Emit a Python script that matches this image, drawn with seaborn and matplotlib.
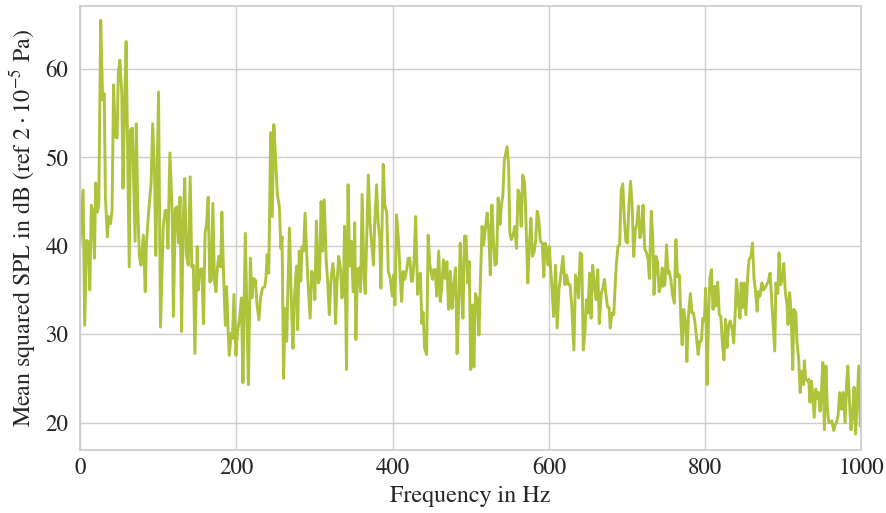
import matplotlib
matplotlib.use("Agg")
import matplotlib.pyplot as plt
import seaborn as sns
import pandas as pd

# Frequencies (Hz) and mean squared SPL (dB)
freq = [0, 4, 6, 8.5, 11, 12.5, 14.5, 16.5, 18.5, 20, 22, 24, 26.5, 29, 31, 32.5, 35, 36.5, 39, 41,
        43, 45, 47.5, 49, 51, 53.5, 55, 57, 59, 61, 63, 64.5, 67, 70.5, 72, 74, 76, 78, 81, 83.5,
        85, 88, 91, 93, 95.5, 97, 100.5, 103, 106.5, 109, 111, 112.5, 115, 118, 119.5, 122, 124, 126, 128, 130,
        132, 134, 136, 138.5, 141, 143, 145, 147, 150, 151.5, 153, 156, 158, 160, 162, 164, 166, 168, 170, 172,
        174, 175.5, 177.5, 180, 181.5, 184, 186, 187.5, 189.5, 191, 193.5, 195, 197, 199.5, 201.5, 204, 206.5, 208.5, 211.5, 213.5,
        215.5, 218, 220, 222, 224.5, 226.5, 229, 231, 233.5, 236.5, 238, 239.5, 241.5, 244, 246, 248, 249.5, 252.5, 255, 257,
        258.5, 260.5, 262.5, 264.5, 266, 268, 270.5, 272.5, 274.5, 277, 278.5, 280.5, 282.5, 284, 286, 288, 290, 292, 294.5, 296.5,
        299, 300.5, 302.5, 305, 306.5, 308.5, 310.5, 312.5, 315, 317, 319, 321, 323.5, 325.5, 327, 329, 331, 333.5, 335, 337,
        338.5, 341, 343, 345, 347, 349.5, 351.5, 353, 355, 357, 359, 361, 363.5, 365, 367, 369, 371, 373.5, 375.5, 377,
        379.5, 381.5, 383.5, 385, 388, 390, 392.5, 394.5, 397, 399.5, 401.5, 403, 405, 407.5, 409.5, 411.5, 413.5, 415.5, 418, 420,
        422, 424, 425.5, 427.5, 429.5, 432, 433.5, 435.5, 437.5, 439, 441, 443.5, 445.5, 447.5, 449, 451, 452.5, 454.5, 456.5, 459,
        461, 463, 465, 467.5, 469.5, 471.5, 474, 476, 478, 480.5, 482.5, 484.5, 486.5, 488.5, 490, 492, 494, 496, 498, 500,
        502, 504, 506, 508.5, 510.5, 512.5, 514.5, 516.5, 519, 521, 523, 525, 527, 529, 531, 533, 535, 537.5, 539, 541,
        543, 546.5, 548.5, 550, 552, 554, 556.5, 558.5, 560.5, 562.5, 564.5, 566.5, 569, 571, 573, 575, 577, 579, 581, 583,
        585, 587, 589, 591.5, 593.5, 595, 597, 599, 600.5, 602, 604, 606, 608.5, 610.5, 613, 615, 618, 620.5, 622.5, 625,
        627, 629, 632, 634, 636, 638, 640, 642, 644, 646, 648, 650, 652, 654, 656, 658, 660.5, 662.5, 664.5, 667,
        669, 671, 673, 675, 677, 678.5, 680.5, 683, 684.5, 686.5, 688.5, 690.5, 692.5, 694.5, 696.5, 698.5, 700.5, 702.5, 704.5, 706.5,
        708.5, 710.5, 712.5, 714.5, 716.5, 718.5, 720.5, 722.5, 724.5, 727, 728.5, 731, 733, 734.5, 737, 739, 741, 743, 745, 746.5,
        748.5, 750.5, 752.5, 754, 756, 758, 760.5, 762.5, 764.5, 767, 769, 770.5, 772.5, 775, 776.5, 778.5, 781, 783, 785, 787,
        789.5, 791, 793, 795, 797, 799, 800.5, 802.5, 804.5, 806, 808, 810, 812.5, 814, 816, 818, 820, 822, 824, 826,
        828, 830, 832, 834.5, 836.5, 838.5, 840, 842.5, 844.5, 846, 848, 850, 852, 854.5, 856, 858.5, 860.5, 862.5, 864, 866.5,
        868, 870, 872.5, 874.5, 876.5, 878.5, 880.5, 883, 885, 887, 889, 890.5, 893, 894.5, 896.5, 899, 900.5, 902.5, 904.5, 906,
        908, 910, 912, 913.5, 916, 917.5, 919.5, 921.5, 923.5, 925.5, 927, 928.5, 931, 932.5, 934, 936, 937.5, 939.5, 941.5, 943,
        945, 947, 948.5, 950.5, 952.5, 954.5, 956, 958, 960, 962, 964.5, 966.5, 968, 970, 972, 974.5, 976.5, 979, 981, 982.5,
        984.5, 986.5, 988.5, 990.5, 992.5, 994.5, 996.5, 998.5, 1000]

spl = [40.1, 46.3, 31.0, 40.6, 40.4, 35.0, 44.6, 43.7, 38.6, 47.1, 43.8, 44.5, 65.5, 56.5, 57.2, 45.5, 41.0, 43.3, 42.5, 44.0,
       58.2, 52.3, 52.2, 59.5, 61.0, 57.2, 46.5, 55.4, 63.1, 50.5, 37.6, 53.1, 53.3, 40.5, 53.8, 44.0, 38.8, 37.8, 41.2, 34.8,
       40.3, 44.0, 47.1, 53.8, 47.8, 38.9, 57.4, 30.8, 42.2, 44.0, 44.0, 39.7, 50.5, 43.7, 32.0, 44.2, 44.4, 40.3, 45.5, 30.3,
       42.5, 47.6, 39.1, 37.8, 47.8, 37.6, 37.8, 27.8, 39.9, 35.0, 37.2, 37.4, 31.2, 41.4, 42.5, 45.5, 35.9, 36.1, 44.8, 36.1,
       34.8, 37.2, 38.8, 37.6, 43.8, 35.9, 31.0, 35.4, 30.5, 27.6, 30.1, 29.5, 34.5, 27.6, 30.3, 31.6, 34.1, 24.5, 41.4, 32.8,
       24.3, 38.6, 34.1, 36.3, 36.1, 33.3, 31.6, 34.1, 35.2, 35.4, 36.5, 39.0, 36.9, 52.8, 43.3, 53.7, 51.2, 45.8, 44.5, 39.7,
       41.0, 25.0, 32.9, 29.2, 35.0, 42.0, 33.5, 28.4, 34.3, 37.7, 30.5, 39.4, 36.0, 39.9, 39.4, 43.7, 39.2, 35.4, 31.8, 37.1,
       36.3, 33.9, 42.8, 35.8, 36.2, 45.0, 39.4, 45.2, 38.4, 35.8, 32.2, 35.9, 38.0, 36.2, 31.2, 36.0, 38.8, 37.3, 34.1, 34.5,
       42.2, 26.0, 46.9, 37.7, 40.5, 34.8, 42.6, 29.4, 37.3, 37.5, 34.8, 45.8, 36.2, 34.6, 41.2, 48.0, 42.6, 39.9, 37.8, 42.2,
       46.9, 42.6, 40.9, 35.2, 49.2, 44.6, 43.7, 37.1, 36.3, 34.3, 36.7, 33.3, 43.5, 40.7, 36.9, 33.7, 37.1, 36.2, 37.3, 38.6,
       38.6, 36.0, 36.0, 38.4, 43.3, 34.5, 36.0, 36.9, 31.2, 32.5, 28.4, 27.7, 41.2, 38.0, 37.1, 36.2, 37.3, 37.3, 34.3, 39.4,
       33.7, 35.4, 38.4, 36.3, 38.2, 32.8, 37.1, 32.9, 35.2, 37.5, 27.8, 32.9, 40.3, 35.0, 31.8, 41.1, 41.1, 35.8, 38.2, 26.0,
       33.3, 26.3, 34.6, 33.9, 29.9, 36.5, 42.2, 40.1, 42.2, 43.7, 41.8, 36.7, 44.6, 40.7, 37.8, 38.0, 45.4, 42.4, 44.5, 45.6,
       49.7, 51.2, 49.0, 41.4, 40.7, 41.2, 42.2, 39.7, 46.3, 45.8, 42.2, 48.0, 47.1, 41.8, 35.8, 40.1, 43.1, 38.8, 39.3, 40.5,
       43.9, 43.1, 40.5, 40.3, 36.5, 40.3, 39.7, 37.8, 39.9, 37.7, 35.2, 32.0, 37.8, 30.7, 35.2, 36.5, 38.8, 35.6, 36.7, 35.6,
       35.6, 33.5, 28.2, 36.7, 36.0, 34.1, 39.2, 39.0, 28.2, 30.1, 33.9, 32.4, 36.9, 31.8, 37.8, 35.8, 33.9, 37.3, 31.2, 34.6,
       35.2, 36.2, 34.5, 33.1, 33.0, 30.7, 32.4, 32.2, 35.0, 38.2, 40.0, 40.1, 46.3, 47.0, 43.1, 40.5, 40.3, 44.8, 47.3, 44.5,
       38.8, 41.8, 42.4, 44.5, 40.9, 41.8, 44.6, 39.7, 39.3, 38.4, 36.3, 43.9, 40.7, 34.5, 38.8, 38.2, 34.8, 35.4, 37.5, 35.4,
       35.6, 40.1, 36.9, 37.1, 36.2, 34.6, 33.5, 40.7, 36.5, 36.7, 31.2, 28.8, 32.8, 31.2, 26.9, 32.0, 34.6, 32.4, 32.4, 31.2,
       29.0, 27.7, 29.2, 29.2, 31.8, 31.5, 35.2, 24.3, 32.8, 36.4, 37.3, 32.8, 35.4, 33.2, 35.9, 32.2, 32.0, 29.0, 27.1, 31.7,
       28.5, 30.9, 31.5, 30.6, 29.0, 32.6, 36.2, 33.5, 31.8, 35.8, 33.0, 35.8, 32.2, 36.7, 38.4, 38.8, 40.3, 36.2, 35.2, 32.6,
       34.8, 34.3, 35.8, 35.0, 35.2, 35.6, 35.9, 36.9, 33.9, 30.9, 28.1, 35.8, 34.6, 39.2, 35.6, 36.2, 38.0, 34.8, 33.5, 31.1,
       34.7, 32.4, 26.0, 32.8, 32.4, 29.0, 27.3, 23.4, 25.8, 24.3, 27.0, 24.9, 24.7, 24.9, 22.3, 24.7, 23.0, 20.6, 23.8, 22.7,
       23.4, 21.3, 23.0, 26.8, 19.2, 26.4, 22.1, 20.0, 20.0, 20.2, 19.1, 19.8, 20.0, 20.8, 23.4, 21.5, 23.4, 20.0, 24.5, 26.4,
       22.6, 19.2, 20.6, 24.0, 18.7, 22.6, 26.4, 19.6, 23.0]

x_ticks = [0, 200, 400, 600, 800, 1000]
y_ticks = [20, 30, 40, 50, 60]

df = pd.DataFrame({"Frequency": freq, "SPL": spl})

sns.set_theme(style="whitegrid")
plt.rcParams["font.family"] = ["STIXGeneral", "Liberation Serif", "DejaVu Serif"]
plt.rcParams["mathtext.fontset"] = "stix"

fig = plt.figure(figsize=(8.87, 5.13), dpi=100)
ax = fig.add_axes([80 / 887, 1 - 450 / 513, (861.5 - 80) / 887, (450 - 5.7) / 513])

sns.lineplot(data=df, x="Frequency", y="SPL", ax=ax, color="#afc23c",
             linewidth=2.1, estimator=None, sort=False)

ax.set_xlim(0, 1000)
ax.set_ylim(16.9, 67.15)
ax.set_xticks(x_ticks)
ax.set_yticks(y_ticks)
ax.tick_params(axis="both", labelsize=16.5, length=0)
ax.tick_params(axis="x", pad=5.5)
ax.tick_params(axis="y", pad=8.5)
ax.set_xlabel("Frequency in Hz", fontsize=17.3, labelpad=4.5)
ax.set_ylabel(r"Mean squared SPL in dB (ref $2\cdot10^{-5}$ Pa)", fontsize=17.3, labelpad=5)

for s in ax.spines.values():
    s.set_color("#cccccc")
    s.set_linewidth(1.25)

fig.savefig("out.png", dpi=100)
